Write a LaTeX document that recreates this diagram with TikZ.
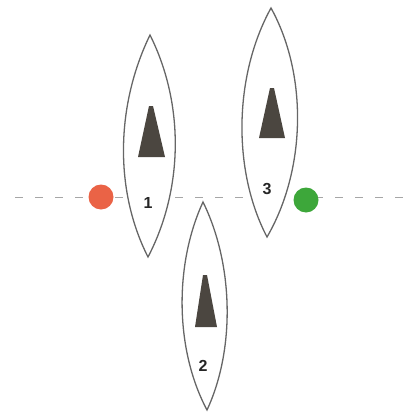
\documentclass[tikz,border=0pt]{standalone}
\usepackage{fontspec}
\setsansfont{Liberation Sans}
\begin{document}
\begin{tikzpicture}[x=0.5pt,y=-0.5pt,
  hull/.style={draw=black!60, line width=0.65pt, fill=white},
  sail/.style={fill=sailgray, draw=none},
  numlabel/.style={font=\sffamily\bfseries\fontsize{8}{8}\selectfont, text=black!85, inner sep=0pt},
  mark line/.style={draw=black!35, line width=0.5pt, dash pattern=on 4pt off 6pt},
  buoy/.style={circle, draw=none, minimum size=12.5pt, inner sep=0pt}]
\definecolor{sailgray}{HTML}{4B4640}
\definecolor{buoyred}{HTML}{EA6346}
\definecolor{buoygreen}{HTML}{3DA73A}
\useasboundingbox (0,0) rectangle (410,412);

% starting line
\coordinate (lineW) at (15,197);
\coordinate (lineE) at (405,197);
\draw[mark line] (lineW) -- (lineE);

% boat 1
\draw[hull] (150,35) .. controls (116,105) and (114,190) .. (148,257)
            .. controls (183,190) and (185,105) .. (150,35) -- cycle;
\fill[sail] (149,106) -- (153,106) -- (165,157) -- (138,157) -- cycle;
\node[numlabel] (n1) at (148,203) {1};

% boat 3
\draw[hull] (271,8) .. controls (234,75) and (232,170) .. (267,237)
            .. controls (306,170) and (308,75) .. (271,8) -- cycle;
\fill[sail] (270,88) -- (274,88) -- (285,138) -- (259,138) -- cycle;
\node[numlabel] (n3) at (267,189) {3};

% boat 2
\draw[hull] (203,202) .. controls (174,265) and (175,350) .. (207,410)
            .. controls (235,350) and (234,265) .. (203,202) -- cycle;
\fill[sail] (203,275) -- (207,275) -- (217,327) -- (195,327) -- cycle;
\node[numlabel] (n2) at (203,366) {2};

% marks at the ends of the line
\node[buoy, fill=buoyred] (red) at (101,197) {};
\node[buoy, fill=buoygreen] (green) at (306,200) {};
\end{tikzpicture}
\end{document}
